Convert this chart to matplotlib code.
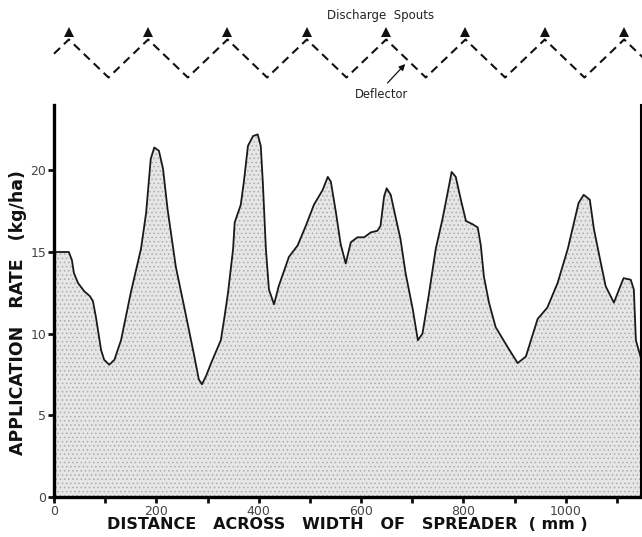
import matplotlib
matplotlib.use("Agg")
import matplotlib.pyplot as plt
import numpy as np

# distance across spreader (mm) and application rate (kg/ha)
distance_mm = [0, 29, 35, 39, 47, 59, 70, 76, 82, 88, 92, 98, 108, 118, 131, 150, 170, 180,
               189, 196, 205, 213, 222, 238, 254, 273, 283, 289, 297, 307, 326, 333, 340, 350,
               353, 365, 371, 379, 389, 398, 404, 408, 414, 420, 430, 439, 459, 476, 492, 508,
               525, 535, 541, 551, 560, 570, 580, 593, 606, 619, 632, 638, 645, 650, 658, 667,
               677, 687, 701, 711, 720, 733, 746, 759, 769, 777, 785, 795, 805, 818, 828, 834,
               840, 850, 863, 886, 906, 922, 945, 964, 984, 1004, 1016, 1025, 1035, 1047, 1055,
               1068, 1078, 1094, 1104, 1113, 1127, 1133, 1137, 1146]
rate_kgha = [15.0, 15.0, 14.5, 13.7, 13.1, 12.6, 12.3, 12.0, 11.0, 9.8, 9.0, 8.4, 8.1, 8.4, 9.6,
             12.5, 15.2, 17.4, 20.7, 21.4, 21.2, 20.1, 17.6, 14.1, 11.7, 8.8, 7.2, 6.9, 7.4, 8.2,
             9.6, 11.0, 12.5, 15.2, 16.8, 17.9, 19.3, 21.5, 22.1, 22.2, 21.5, 19.3, 15.2, 12.7,
             11.8, 12.9, 14.7, 15.4, 16.6, 17.9, 18.8, 19.6, 19.3, 17.4, 15.5, 14.3, 15.6, 15.9,
             15.9, 16.2, 16.3, 16.6, 18.4, 18.9, 18.5, 17.2, 15.8, 13.7, 11.5, 9.6, 10.0, 12.5,
             15.2, 17.0, 18.6, 19.9, 19.6, 18.2, 16.9, 16.7, 16.5, 15.4, 13.5, 11.9, 10.4, 9.2,
             8.2, 8.6, 10.9, 11.6, 13.1, 15.2, 16.8, 18.0, 18.5, 18.2, 16.4, 14.4, 12.9, 11.9,
             12.7, 13.4, 13.3, 12.7, 9.6, 8.6]

# spreader sketch: discharge spout positions (mm), deflector zigzag between them
spouts_mm = [29, 184, 339, 494, 649, 804, 959, 1114]
y_ticks = [0, 5, 10, 15, 20]
x_ticks = list(range(0, 1101, 100))
x_labels = ["0", "", "200", "", "400", "", "600", "", "800", "", "1000", ""]

XMAX = 1147
W, H = 642, 537
L_PX, R_PX, B_PX, T_PX = 54, 641, 497, 105

fig = plt.figure(figsize=(W / 100, H / 100), dpi=100)
plt.rcParams["hatch.linewidth"] = 0.6

ax = fig.add_axes([L_PX / W, (H - B_PX) / H, (R_PX - L_PX) / W, (B_PX - T_PX) / H])
x = np.array(distance_mm)
y = np.array(rate_kgha)
ax.fill_between(x, 0, y, facecolor="#e6e6e6", edgecolor="#acacac", hatch="....", lw=0)
ax.plot(x, y, color="#1a1a1a", lw=1.3)
ax.set_xlim(0, XMAX)
ax.set_ylim(0, 24)
ax.set_xticks(x_ticks)
ax.set_xticklabels(x_labels)
ax.set_yticks(y_ticks)
ax.tick_params(axis="both", direction="out", length=4, width=2, color="#111111",
               labelsize=9, labelcolor="#444444", pad=1.5)
ax.spines["top"].set_visible(False)
for s in ["left", "bottom"]:
    ax.spines[s].set_linewidth(2.4)
ax.spines["right"].set_linewidth(1.5)
ax.set_xlabel("DISTANCE   ACROSS   WIDTH   OF   SPREADER  ( mm )", fontsize=11.5,
              fontweight="bold", color="#111111")
ax.xaxis.set_label_coords(0.5, -0.052)
ax.set_ylabel("APPLICATION   RATE   (kg/ha)", fontsize=12.5, fontweight="bold",
              color="#111111")
ax.yaxis.set_label_coords(-0.046, 0.47)

# top sketch of spreader spouts and deflector
top = fig.add_axes([L_PX / W, (H - T_PX) / H, (R_PX - L_PX) / W, T_PX / H])
top.set_xlim(0, XMAX)
top.set_ylim(T_PX, 0)
top.axis("off")
half = (spouts_mm[1] - spouts_mm[0]) / 2
zx = [0]
for s in spouts_mm:
    zx += [s, s + half]
zy_apex, zy_valley = 39.5, 77.5
slope = (zy_valley - zy_apex) / half
zy = [zy_apex + slope * spouts_mm[0]]
for s in spouts_mm:
    zy += [zy_apex, zy_valley]
top.plot(zx, zy, color="#111111", lw=1.5, ls=(0, (4, 2.6)), clip_on=False)
for s in spouts_mm:
    top.plot(s, 32, marker="^", ms=6.5, mew=0, color="#111111", clip_on=False)
top.text(639, 16, "Discharge  Spouts", ha="center", va="center", fontsize=8.5, color="#222222")
top.text(639, 94, "Deflector", ha="center", va="center", fontsize=8.3, color="#222222")
top.annotate("", xy=(690, 62), xytext=(648, 85),
             arrowprops=dict(arrowstyle="-|>", color="#111111", lw=0.9, mutation_scale=9))

fig.savefig("out.png", dpi=100)
